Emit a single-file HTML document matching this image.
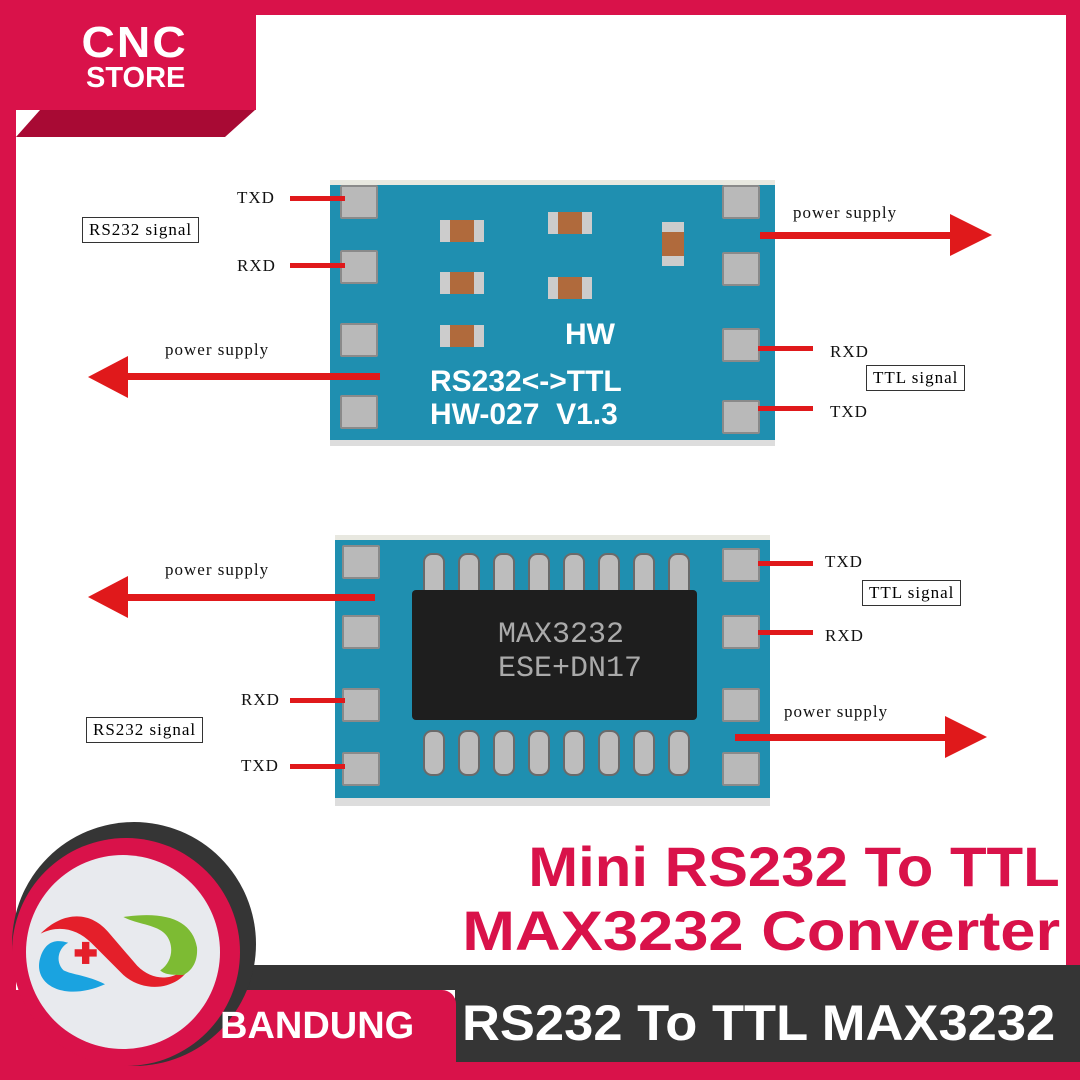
<!DOCTYPE html>
<html><head><meta charset="utf-8"><style>
body{margin:0;width:1080px;height:1080px;position:relative;overflow:hidden;background:#fff;font-family:"Liberation Serif",serif}
.a{position:absolute}
.lbl{position:absolute;font-size:17px;color:#111;letter-spacing:1px}
.box{position:absolute;border:1px solid #333;font-size:17px;padding:2px 6px;letter-spacing:1px;background:#fff}
.pad{position:absolute;width:34px;height:30px;background:#b9b9b9;border:2px solid #8a8a8a;border-radius:2px}
.ln{position:absolute;height:5px;background:#e0191b}
.pin{position:absolute;width:18px;height:42px;background:#bdbdbd;border-radius:9px;border:2px solid #6a6a6a}
.cap{position:absolute;width:44px;height:22px;background:#b06a3c;border-left:10px solid #ccc;border-right:10px solid #ccc;box-sizing:border-box}
.t{position:absolute;color:#fff;font-family:"Liberation Sans",sans-serif;font-weight:bold}
</style></head><body>
<!-- frame -->
<div class="a" style="left:0;top:0;width:1080px;height:15px;background:#d9124a"></div>
<div class="a" style="left:0;top:0;width:16px;height:1080px;background:#d9124a"></div>
<div class="a" style="right:0;top:0;width:14px;height:1080px;background:#d9124a"></div>
<div class="a" style="left:16px;top:15px;width:240px;height:95px;background:#d9124a"></div>
<svg class="a" style="left:0;top:0" width="270" height="140"><polygon points="40,110 255,110 225,137 16,137" fill="#a80a34"/></svg>
<div class="t" style="left:84px;top:18px;font-size:44px;letter-spacing:2px;transform:scaleX(1.05)">CNC</div>
<div class="t" style="left:86px;top:62px;font-size:29px">STORE</div>

<!-- top board -->
<div class="a" style="left:330px;top:180px;width:445px;height:255px;background:#1f8fb0;border-top:5px solid #e8e8e0;border-bottom:6px solid #ddd"></div>
<div class="pad" style="left:340px;top:185px"></div><div class="pad" style="left:340px;top:250px"></div><div class="pad" style="left:340px;top:323px"></div><div class="pad" style="left:340px;top:395px"></div>
<div class="pad" style="left:722px;top:185px"></div><div class="pad" style="left:722px;top:252px"></div><div class="pad" style="left:722px;top:328px"></div><div class="pad" style="left:722px;top:400px"></div>
<div class="cap" style="left:440px;top:220px"></div><div class="cap" style="left:440px;top:272px"></div><div class="cap" style="left:440px;top:325px"></div>
<div class="cap" style="left:548px;top:212px"></div><div class="cap" style="left:548px;top:277px"></div>
<div class="cap" style="left:662px;top:222px;width:22px;height:44px;border:none;border-top:10px solid #ccc;border-bottom:10px solid #ccc"></div>
<div class="t" style="left:565px;top:318px;font-size:30px">HW</div>
<div class="t" style="left:430px;top:365px;font-size:30px">RS232&lt;-&gt;TTL</div>
<div class="t" style="left:430px;top:398px;font-size:30px">HW-027&nbsp; V1.3</div>

<div class="lbl" style="left:237px;top:188px">TXD</div><div class="ln" style="left:290px;top:196px;width:55px"></div>
<div class="box" style="left:82px;top:217px">RS232 signal</div>
<div class="lbl" style="left:237px;top:256px">RXD</div><div class="ln" style="left:290px;top:263px;width:55px"></div>
<div class="lbl" style="left:165px;top:340px">power supply</div>
<div class="ln" style="left:110px;top:373px;width:270px;height:7px"></div>
<svg class="a" style="left:88px;top:356px" width="40" height="42"><polygon points="0,21 40,0 40,42" fill="#e0191b"/></svg>
<div class="lbl" style="left:793px;top:203px">power supply</div>
<div class="ln" style="left:760px;top:232px;width:200px;height:7px"></div>
<svg class="a" style="left:950px;top:214px" width="42" height="42"><polygon points="0,0 42,21 0,42" fill="#e0191b"/></svg>
<div class="ln" style="left:758px;top:346px;width:55px"></div><div class="lbl" style="left:830px;top:342px">RXD</div>
<div class="box" style="left:866px;top:365px">TTL signal</div>
<div class="ln" style="left:758px;top:406px;width:55px"></div><div class="lbl" style="left:830px;top:402px">TXD</div>

<!-- bottom board -->
<div class="a" style="left:335px;top:535px;width:435px;height:258px;background:#1f8fb0;border-top:5px solid #e8e8e0;border-bottom:8px solid #ddd"></div>
<div class="pad" style="left:342px;top:545px"></div><div class="pad" style="left:342px;top:615px"></div><div class="pad" style="left:342px;top:688px"></div><div class="pad" style="left:342px;top:752px"></div>
<div class="pad" style="left:722px;top:548px"></div><div class="pad" style="left:722px;top:615px"></div><div class="pad" style="left:722px;top:688px"></div><div class="pad" style="left:722px;top:752px"></div>
<div class="pin" style="left:423px;top:553px"></div><div class="pin" style="left:458px;top:553px"></div><div class="pin" style="left:493px;top:553px"></div><div class="pin" style="left:528px;top:553px"></div><div class="pin" style="left:563px;top:553px"></div><div class="pin" style="left:598px;top:553px"></div><div class="pin" style="left:633px;top:553px"></div><div class="pin" style="left:668px;top:553px"></div>
<div class="pin" style="left:423px;top:730px"></div><div class="pin" style="left:458px;top:730px"></div><div class="pin" style="left:493px;top:730px"></div><div class="pin" style="left:528px;top:730px"></div><div class="pin" style="left:563px;top:730px"></div><div class="pin" style="left:598px;top:730px"></div><div class="pin" style="left:633px;top:730px"></div><div class="pin" style="left:668px;top:730px"></div>
<div class="a" style="left:412px;top:590px;width:285px;height:130px;background:#1e1e1e;border-radius:4px"></div>
<div class="a" style="left:498px;top:618px;font-family:'Liberation Mono',monospace;font-size:30px;color:#aaa">MAX3232</div>
<div class="a" style="left:498px;top:652px;font-family:'Liberation Mono',monospace;font-size:30px;color:#aaa">ESE+DN17</div>

<div class="lbl" style="left:165px;top:560px">power supply</div>
<div class="ln" style="left:110px;top:594px;width:265px;height:7px"></div>
<svg class="a" style="left:88px;top:576px" width="40" height="42"><polygon points="0,21 40,0 40,42" fill="#e0191b"/></svg>
<div class="lbl" style="left:241px;top:690px">RXD</div><div class="ln" style="left:290px;top:698px;width:55px"></div>
<div class="box" style="left:86px;top:717px">RS232 signal</div>
<div class="lbl" style="left:241px;top:756px">TXD</div><div class="ln" style="left:290px;top:764px;width:55px"></div>
<div class="ln" style="left:758px;top:561px;width:55px"></div><div class="lbl" style="left:825px;top:552px">TXD</div>
<div class="box" style="left:862px;top:580px">TTL signal</div>
<div class="ln" style="left:758px;top:630px;width:55px"></div><div class="lbl" style="left:825px;top:626px">RXD</div>
<div class="lbl" style="left:784px;top:702px">power supply</div>
<div class="ln" style="left:735px;top:734px;width:220px;height:7px"></div>
<svg class="a" style="left:945px;top:716px" width="42" height="42"><polygon points="0,0 42,21 0,42" fill="#e0191b"/></svg>

<!-- title -->
<div class="a" style="right:20px;top:834px;font-family:'Liberation Sans',sans-serif;font-weight:bold;font-size:56px;color:#d9124a;white-space:nowrap;transform:scaleX(1.07);transform-origin:right center">Mini RS232 To TTL</div>
<div class="a" style="right:20px;top:898px;font-family:'Liberation Sans',sans-serif;font-weight:bold;font-size:56px;color:#d9124a;white-space:nowrap;transform:scaleX(1.13);transform-origin:right center">MAX3232 Converter</div>

<!-- bottom -->
<div class="a" style="left:16px;top:1060px;width:1064px;height:20px;background:#d9124a"></div>
<div class="a" style="left:160px;top:965px;width:920px;height:25px;background:#353535"></div>
<div class="a" style="left:455px;top:990px;width:625px;height:72px;background:#353535"></div>
<div class="a" style="left:16px;top:990px;width:440px;height:90px;background:#d9124a;border-top-right-radius:14px"></div>
<div class="a" style="left:12px;top:822px;width:244px;height:244px;border-radius:50%;background:#353535"></div>
<div class="a" style="left:12px;top:838px;width:228px;height:228px;border-radius:50%;background:#d9124a"></div>
<div class="a" style="left:26px;top:855px;width:194px;height:194px;border-radius:50%;background:#e8eaee"></div>
<svg class="a" style="left:26px;top:855px" width="194" height="194">
<g transform="translate(10,28) scale(0.92)">
<path d="M5,55 C30,30 60,30 80,55 L110,90 C130,110 155,105 170,85 C160,115 120,122 95,100 L60,65 C45,50 25,45 5,55Z" fill="#e41f2a"/>
<path d="M5,80 C-5,110 30,130 75,110 C55,100 40,100 30,95 C20,85 25,70 35,65 C20,60 10,65 5,80Z" fill="#1aa3e0"/>
<path d="M95,37 C140,30 170,40 175,70 C176,85 170,95 160,100 C150,100 140,100 135,95 C150,85 150,65 140,55 C130,45 110,45 95,37Z" fill="#7dbb33"/>
<rect x="50" y="64" width="8" height="24" fill="#e41f2a"/><rect x="42" y="72" width="24" height="8" fill="#e41f2a"/>
</g>
</svg>
<div class="t" style="left:220px;top:1005px;font-size:38px">BANDUNG</div>
<div class="t" style="left:462px;top:994px;font-size:50px;white-space:nowrap;transform:scaleX(1.05);transform-origin:left center">RS232 To TTL MAX3232</div>
</body></html>
